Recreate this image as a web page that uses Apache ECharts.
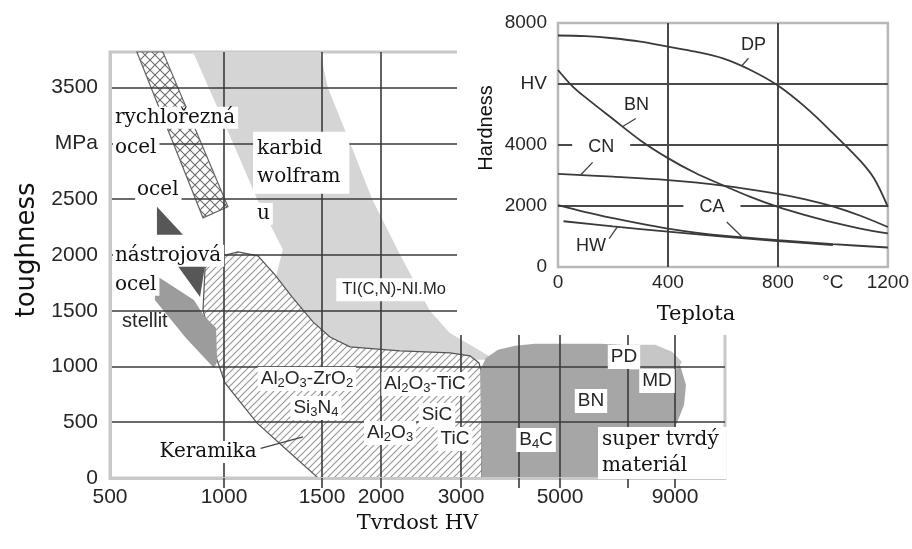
<!DOCTYPE html>
<html><head><meta charset="utf-8">
<script src="https://cdn.jsdelivr.net/npm/echarts@6/dist/echarts.min.js"></script>
<style>html,body{margin:0;padding:0;background:#fff}#c{width:912px;height:549px}</style>
</head><body><div id="c"></div>
<script>
// ---------- main chart: irregular hardness axis ----------
const xTickHV  = [500, 1000, 1500, 2000, 3000, 4000, 5000, 7000, 9000, 11000];
const xTickPos = [0, 114, 212, 271, 351, 409, 450, 518, 565, 615];
const xLabelHV = [500, 1000, 1500, 2000, 3000, 5000, 9000];
const xGridHV  = [1000, 1500, 2000, 3000, 4000, 5000, 7000, 9000];
const yLabelMPa = [0, 500, 1000, 1500, 2000, 2500, 3000, 3500];
const yGridMPa  = [500, 1000, 1500, 2000, 2500, 3000, 3500];
const yTopMPa = 3820;

// regions [HV, MPa]
const karbidRegion = [[864,3820],[1490,3820],[1550,3500],[1740,3000],[1925,2500],[2240,2000],[2610,1500],[2860,1300],[3155,1194],[3590,1060],[1570,1060],[1235,1597],[1300,2050],[1170,2500],[1005,3170]];
const ceramicRegion = [[917,1885],[961,1974],[1071,2028],[1173,1992],[1260,1822],[1347,1624],[1454,1400],[1568,1265],[1737,1176],[2238,1140],[2863,1122],[3155,1095],[3310,1032],[3362,924],[3362,0],[1480,0],[1321,251],[1168,494],[1005,853],[947,1194],[908,1508]];
const superRegion = [[3362,0],[3328,969],[3431,1077],[3638,1149],[3931,1185],[4390,1203],[6176,1203],[7511,1185],[8574,1131],[9200,1014],[9440,835],[9360,655],[9040,476],[9040,0]];
const diamondRegion = [[6912,1194],[8149,1194],[8872,1131],[9280,1041],[9040,969],[7085,969]];
const hssRegion = [[618,3820],[732,3820],[1020,2432],[908,2333]];
const steelRegion = [[706,2432],[706,2181],[820,2181]];
const toolSteelRegion = [[794,1911],[917,1911],[895,1624]];
const stellitRegion = [[697,1822],[868,1597],[912,1454],[965,1346],[970,1041],[956,987],[833,1256],[697,1597]];

const mainLabels = [
  ['rychlořezná', 513, 3231, 'serifL'],
  ['ocel', 513, 2961, 'serifL'],
  ['ocel', 610, 2585, 'serifL'],
  ['karbid\nwolfram', 1148, 2827, 'serifBox'],
  ['u', 1158, 2369, 'serifL'],
  ['nástrojová', 513, 1992, 'serifL'],
  ['ocel', 513, 1732, 'serifL'],
  ['stellit', 553, 1400, 'sansPlain'],
  ['TI(C,N)-NI.Mo', 2163, 1687, 'sansSmall'],
  ['Al{s|2}O{s|3}-ZrO{s|2}', 1423, 888, 'sansC'],
  ['Si{s|3}N{s|4}', 1469, 628, 'sansC'],
  ['Al{s|2}O{s|3}-TiC', 2550, 844, 'sansC'],
  ['Al{s|2}O{s|3}', 2113, 404, 'sansC'],
  ['SiC', 2700, 565, 'sansC'],
  ['TiC', 2925, 350, 'sansC'],
  ['Keramika', 930, 233, 'serifC'],
  ['B{s|4}C', 4415, 341, 'sansC'],
  ['BN', 5912, 691, 'sansC'],
  ['PD', 6882, 1086, 'sansC'],
  ['MD', 8234, 870, 'sansC'],
  ['super tvrdý\nmateriál', 6118, 224, 'serifBox2']
];
const mainLeaders = [[1173, 260, 1403, 368]];

// ---------- inset: hardness vs temperature ----------
const dpT = [0,100,200,300,400,500,600,700,800,900,1000,1100,1150,1200];
const dpHV = [7590,7570,7500,7390,7225,7060,6840,6460,5950,5240,4390,3480,2900,1970];
const bnT = [0,50,100,200,300,400,500,600,700,800,900,1000,1100,1200];
const bnHV = [6460,5950,5560,4850,4150,3570,3080,2680,2300,1970,1700,1460,1260,1100];
const cnT = [0,200,400,600,800,900,1000,1100,1200];
const cnHV = [3050,2960,2850,2670,2400,2220,1990,1680,1310];
const caT = [0,100,200,300,400,500,600,800,1000,1200];
const caHV = [2030,1800,1600,1420,1260,1130,1030,880,750,640];
const hwT = [20,200,400,600,800,1000];
const hwHV = [1500,1330,1160,1000,850,720];
const insetXLabels = [0, 400, 800, 1000, 1200];
const insetXGrid = [400, 800];
const insetYLabels = [0, 2000, 4000, 6000, 8000];
const insetYGrid = [2000, 4000, 6000];
const insetLabels = [['DP',711,7280,false],['BN',286,5310,false],['CN',157,3931,true],['CA',560,1970,true],['HW',120,680,false]];
const insetLeaders = [[668,6590,693,6844],[234,4600,283,4870],[84,3035,126,3430],[614,1478,668,1000],[186,933,216,1314]];

// ---------- helpers ----------
function hvToPos(hv){
  for (let i = 0; i < xTickHV.length - 1; i++) {
    if (hv <= xTickHV[i+1]) return xTickPos[i] + (hv - xTickHV[i]) / (xTickHV[i+1] - xTickHV[i]) * (xTickPos[i+1] - xTickPos[i]);
  }
  return xTickPos[xTickPos.length-1];
}
function posToHV(p){
  for (let i = 0; i < xTickPos.length - 1; i++) {
    if (p <= xTickPos[i+1] + 1e-9) return xTickHV[i] + (p - xTickPos[i]) / (xTickPos[i+1] - xTickPos[i]) * (xTickHV[i+1] - xTickHV[i]);
  }
  return xTickHV[xTickHV.length-1];
}
function hatch(size, color, lw, cross){
  const c = document.createElement('canvas'); c.width = size; c.height = size;
  const g = c.getContext('2d');
  g.fillStyle = '#fff'; g.fillRect(0,0,size,size);
  g.strokeStyle = color; g.lineWidth = lw; g.beginPath();
  g.moveTo(0,size); g.lineTo(size,0);
  g.moveTo(-size/2,size/2); g.lineTo(size/2,-size/2);
  g.moveTo(size/2,size*1.5); g.lineTo(size*1.5,size/2);
  if (cross) {
    g.moveTo(0,0); g.lineTo(size,size);
    g.moveTo(-size/2,size/2); g.lineTo(size/2,size*1.5);
    g.moveTo(size/2,-size/2); g.lineTo(size*1.5,size/2);
  }
  g.stroke();
  return {image: c, repeat: 'repeat'};
}
const SS = 'Liberation Sans', FS = 'DejaVu Serif', TXT = '#262626';

function regionSeries(pts, style, order){
  return {type:'custom', coordinateSystem:'cartesian2d', xAxisIndex:0, yAxisIndex:0, z:2, silent:true, animation:false,
    data: pts.map(p => [hvToPos(p[0]), p[1]]),
    renderItem(params, api){
      if (params.dataIndex !== 0) return null;
      return {type:'polygon', z2: order, shape:{points: pts.map(p => api.coord([hvToPos(p[0]), p[1]]))}, style: style};
    }};
}
const sub = {s:{fontSize:13, fontFamily:SS, fill:TXT, verticalAlign:'bottom', lineHeight:13}};
const labelStyles = {
  serifL:   {fontSize:20, fontFamily:FS, fill:'#111', align:'left', verticalAlign:'middle', backgroundColor:'#fff', padding:[1,3,1,2]},
  serifC:   {fontSize:20, fontFamily:FS, fill:'#111', align:'center', verticalAlign:'middle', backgroundColor:'#fff', padding:[1,4]},
  serifBox: {fontSize:20, fontFamily:FS, fill:'#111', align:'left', verticalAlign:'middle', backgroundColor:'#fff', padding:[6,9,0,4], lineHeight:28},
  serifBox2:{fontSize:20, fontFamily:FS, fill:'#111', align:'left', verticalAlign:'middle', backgroundColor:'#fff', padding:[0,8,0,4], lineHeight:26},
  sansPlain:{fontSize:20, fontFamily:SS, fill:TXT, align:'left', verticalAlign:'middle'},
  sansSmall:{fontSize:16.5, fontFamily:SS, fill:TXT, align:'center', verticalAlign:'middle', backgroundColor:'#fff', padding:[3,6]},
  sansC:    {fontSize:19, fontFamily:SS, fill:TXT, align:'center', verticalAlign:'middle', backgroundColor:'#fff', padding:[1,3], lineHeight:22, rich: sub}
};
function textSeries(list, axisIdx, toX, styleOf, z){
  return {type:'custom', coordinateSystem:'cartesian2d', xAxisIndex:axisIdx, yAxisIndex:axisIdx, z:z, silent:true, animation:false,
    data: list.map(L => [toX(L[1]), L[2]]),
    renderItem(params, api){
      const L = list[params.dataIndex];
      const p = api.coord([toX(L[1]), L[2]]);
      return {type:'text', x:p[0], y:p[1], style: Object.assign({text: L[0]}, styleOf(L))};
    }};
}
function leaderSeries(list, axisIdx, toX, z){
  return {type:'custom', coordinateSystem:'cartesian2d', xAxisIndex:axisIdx, yAxisIndex:axisIdx, z:z, silent:true, animation:false,
    data: list.map(s => [toX(s[0]), s[1]]),
    renderItem(params, api){
      const s = list[params.dataIndex];
      const a = api.coord([toX(s[0]), s[1]]), b = api.coord([toX(s[2]), s[3]]);
      return {type:'line', shape:{x1:a[0], y1:a[1], x2:b[0], y2:b[1]}, style:{stroke:'#444', lineWidth:1.3}};
    }};
}
const ident = v => v;
function curve(xs, ys){
  return {type:'line', xAxisIndex:1, yAxisIndex:1, z:9, smooth:0.35, showSymbol:false, silent:true, animation:false,
    lineStyle:{color:'#3a3a3a', width:1.8}, data: xs.map((x,i) => [x, ys[i]])};
}

const gridLine = {color:'#3a3a3a', width:1.6};
const option = {
  animation: false,
  backgroundColor: '#fff',
  grid: [
    {left:110, right:187, top:52, bottom:71, show:true, borderColor:'#c8c8c8', borderWidth:3, z:0},
    {left:558, right:22, top:23, bottom:282, show:true, borderColor:'#b8b8b8', borderWidth:2.5, backgroundColor:'#fff', z:7}
  ],
  xAxis: [
    {type:'value', gridIndex:0, min:0, max:xTickPos[xTickPos.length-1], z:3,
     name:'Tvrdost HV', nameLocation:'middle', nameGap:19,
     nameTextStyle:{fontFamily:FS, fontSize:21, color:'#111'},
     axisLine:{show:true, onZero:false, lineStyle:{color:'#c8c8c8', width:3}},
     axisTick:{show:true, customValues: xGridHV.map(hvToPos), length:10, lineStyle:gridLine},
     axisLabel:{customValues: xLabelHV.map(hvToPos), formatter: v => String(Math.round(posToHV(v))), fontFamily:SS, fontSize:21, color:TXT, margin:9},
     splitLine:{show:true, lineStyle:gridLine}},
    {type:'value', gridIndex:1, min:0, max:1200, z:7,
     name:'Teplota', nameLocation:'middle', nameGap:37,
     nameTextStyle:{fontFamily:FS, fontSize:21, color:'#111', padding:[0,54,0,0]},
     axisLine:{show:false},
     axisTick:{show:false, customValues: insetXGrid},
     axisLabel:{customValues: insetXLabels, formatter: v => v === 1000 ? '°C' : String(v), fontFamily:SS, fontSize:19, color:TXT, margin:6},
     splitLine:{show:true, lineStyle:{color:'#4a4a4a', width:2}}}
  ],
  yAxis: [
    {type:'value', gridIndex:0, min:0, max:yTopMPa, z:3,
     name:'toughness', nameLocation:'middle', nameGap:64, nameRotate:90,
     nameTextStyle:{fontFamily:'DejaVu Sans', fontSize:26, color:'#111', padding:[0,0,0,30]},
     axisLine:{show:true, lineStyle:{color:'#c8c8c8', width:3}},
     axisTick:{show:false, customValues: yGridMPa},
     axisLabel:{customValues: yLabelMPa, formatter: v => v === 3000 ? 'MPa' : String(v), fontFamily:SS, fontSize:21, color:TXT, margin:12, padding:[0,0,6,0]},
     splitLine:{show:true, lineStyle:gridLine}},
    {type:'value', gridIndex:1, min:0, max:8000, z:7,
     name:'Hardness', nameLocation:'middle', nameGap:62, nameRotate:90,
     nameTextStyle:{fontFamily:SS, fontSize:20, color:'#111', padding:[0,0,0,34]},
     axisLine:{show:false},
     axisTick:{show:false, customValues: insetYGrid},
     axisLabel:{customValues: insetYLabels, formatter: v => v === 6000 ? 'HV' : String(v), fontFamily:SS, fontSize:19, color:TXT, margin:11, padding:[0,0,5,0]},
     splitLine:{show:true, lineStyle:{color:'#4a4a4a', width:2}}}
  ],
  graphic: {elements: [
    {type:'rect', z:6, silent:true, shape:{x:457, y:0, width:455, height:335}, style:{fill:'#fff'}}
  ]},
  series: [
    regionSeries(karbidRegion, {fill:'#d5d5d5'}, 1),
    regionSeries(ceramicRegion, {fill: hatch(7, '#9a9a9a', 1.2, false), stroke:'#555', lineWidth:1.2}, 2),
    regionSeries(superRegion, {fill:'#a6a6a6'}, 3),
    regionSeries(diamondRegion, {fill:'#c6c6c6'}, 4),
    regionSeries(hssRegion, {fill: hatch(10, '#6a6a6a', 1.1, true), stroke:'#666', lineWidth:1.2}, 5),
    regionSeries(steelRegion, {fill:'#575757'}, 6),
    regionSeries(toolSteelRegion, {fill:'#575757'}, 7),
    regionSeries(stellitRegion, {fill:'#9c9c9c'}, 8),
    leaderSeries(mainLeaders, 0, hvToPos, 4),
    textSeries(mainLabels, 0, hvToPos, L => labelStyles[L[3]], 4),
    leaderSeries(insetLeaders, 1, ident, 9),
    textSeries(insetLabels, 1, ident, L => Object.assign({fontSize:18, fontFamily:SS, fill:TXT, align:'center', verticalAlign:'middle'}, L[3] ? {backgroundColor:'#fff', padding:[4,16]} : {}), 8),
    curve(dpT, dpHV), curve(bnT, bnHV), curve(cnT, cnHV), curve(caT, caHV), curve(hwT, hwHV)
  ]
};
const chart = echarts.init(document.getElementById('c'));
chart.setOption(option);
</script>
</body></html>
